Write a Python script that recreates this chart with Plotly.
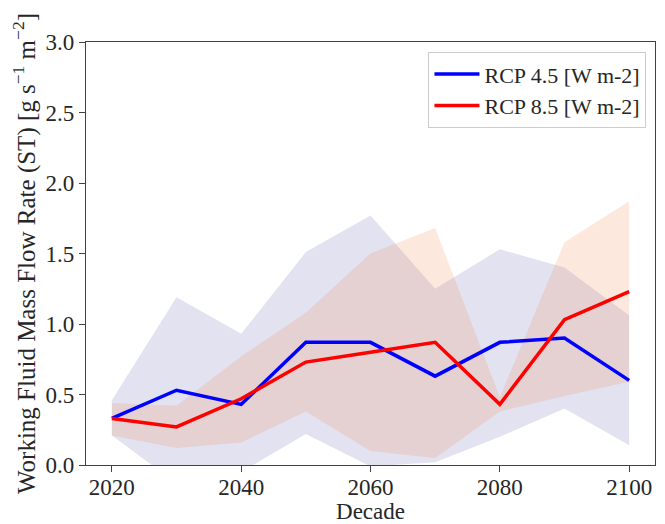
import plotly.graph_objects as go

decades = [2020, 2030, 2040, 2050, 2060, 2070, 2080, 2090, 2100]
rcp45 = [0.33, 0.53, 0.43, 0.87, 0.87, 0.63, 0.87, 0.90, 0.60]
rcp85 = [0.33, 0.27, 0.47, 0.73, 0.80, 0.87, 0.43, 1.03, 1.23]
rcp45_upper = [0.46, 1.19, 0.93, 1.51, 1.77, 1.25, 1.53, 1.40, 1.06]
rcp45_lower = [0.21, -0.13, -0.05, 0.22, -0.01, 0.02, 0.20, 0.40, 0.14]
rcp85_upper = [0.44, 0.42, 0.77, 1.08, 1.50, 1.68, 0.48, 1.58, 1.87]
rcp85_lower = [0.21, 0.12, 0.16, 0.38, 0.10, 0.05, 0.38, 0.49, 0.59]
x_ticks = [2020, 2040, 2060, 2080, 2100]
y_ticks = [0.0, 0.5, 1.0, 1.5, 2.0, 2.5, 3.0]

FONT = "Liberation Serif"
fig = go.Figure()

# bands
fig.add_trace(go.Scatter(x=decades + decades[::-1], y=rcp45_upper + rcp45_lower[::-1],
                         fill="toself", fillcolor="rgba(31,31,143,0.13)",
                         line=dict(width=0), mode="lines", showlegend=False, hoverinfo="skip"))
fig.add_trace(go.Scatter(x=decades + decades[::-1], y=rcp85_upper + rcp85_lower[::-1],
                         fill="toself", fillcolor="rgba(245,130,70,0.18)",
                         line=dict(width=0), mode="lines", showlegend=False, hoverinfo="skip"))
# lines
fig.add_trace(go.Scatter(x=decades, y=rcp45, mode="lines", name="RCP 4.5 [W m-2]",
                         line=dict(color="#0000ff", width=3.5)))
fig.add_trace(go.Scatter(x=decades, y=rcp85, mode="lines", name="RCP 8.5 [W m-2]",
                         line=dict(color="#ff0000", width=3.5)))

axis_common = dict(showline=True, linecolor="#404040", linewidth=1.2, mirror=True,
                   ticks="outside", ticklen=6, tickwidth=1.2, tickcolor="#404040",
                   showgrid=False, zeroline=False, automargin=False,
                   tickfont=dict(family=FONT, size=23, color="#262626"))

# the page body has an 8px margin, so the figure is sized to fit the 665x524 window
fig.update_layout(
    width=657, height=516,
    margin=dict(l=78, r=10, t=34, b=59),
    plot_bgcolor="white", paper_bgcolor="white",
    font=dict(family=FONT, color="#262626"),
    xaxis=dict(range=[2016, 2104], tickvals=x_ticks, ticktext=[str(v) for v in x_ticks],
               ticklabelstandoff=-5,
               title=dict(text="Decade", font=dict(family=FONT, size=23), standoff=6),
               **axis_common),
    yaxis=dict(range=[0, 3.0], tickvals=y_ticks, ticktext=[f"{v:.1f}" for v in y_ticks],
               title=dict(text="Working Fluid Mass Flow Rate (ST) [g s<sup>−1</sup> m<sup>−2</sup>]",
                          font=dict(family=FONT, size=25), standoff=4),
               **axis_common),
    legend=dict(x=0.985, y=0.976, xanchor="right", yanchor="top",
                bgcolor="white", bordercolor="#cccccc", borderwidth=1, itemwidth=45,
                font=dict(family=FONT, size=22, color="#262626")),
)

fig.write_html("out.html")
